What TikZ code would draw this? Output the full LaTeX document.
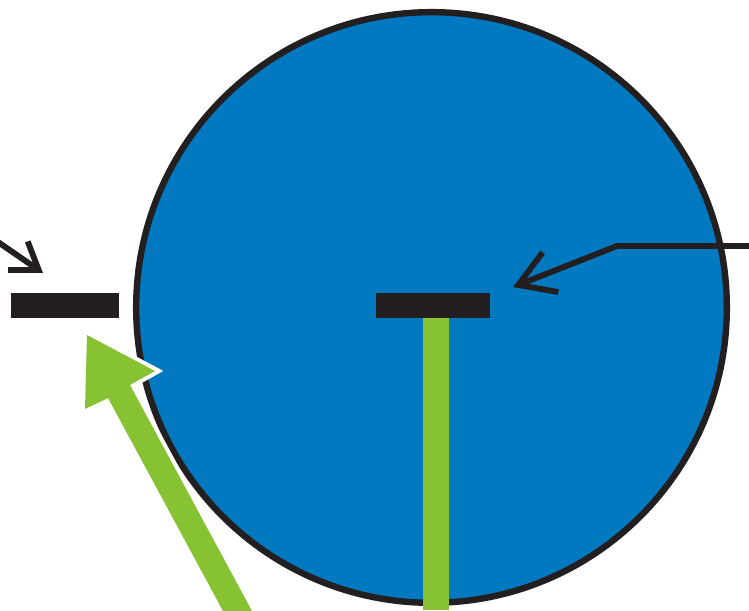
\documentclass[tikz,border=0pt]{standalone}
\usetikzlibrary{arrows.meta}
\definecolor{discblue}{HTML}{0079C1}
\definecolor{leafgreen}{HTML}{86C232}
\definecolor{inkblack}{HTML}{231F20}
\begin{document}
\begin{tikzpicture}[x=0.75pt,y=-0.75pt,
  disc/.style={circle, draw=inkblack, fill=discblue, line width=4.8pt, minimum size=443pt, inner sep=0pt},
  barbox/.style={rectangle, fill=inkblack, minimum height=18.75pt, inner sep=0pt},
  stembox/.style={rectangle, fill=leafgreen, minimum width=19.5pt, minimum height=219pt, inner sep=0pt, anchor=north},
  pointer/.style={draw=inkblack, line width=4.4pt, line join=miter},
  halo/.style={draw=white, line width=6pt, line join=miter},
  bigarrow/.style={fill=leafgreen}
]
\useasboundingbox (0,0) rectangle (749,610);
% disc
\node[disc] (disc) at (431.5,307.5) {};
% bars
\node[barbox, minimum width=81pt] (leftbar) at (65,305.5) {};
\node[barbox, minimum width=85.5pt] (centerbar) at (433,305.5) {};
% green stem under central bar
\node[stembox] (stem) at (436,318) {};
% green arrow pointing up-left
\coordinate (gtip) at (87,335);
\path[halo] (223,611) -- (108,398) -- (85,409) -- (gtip) -- (155,371) -- (130,385) -- (252,611) -- cycle;
\path[bigarrow] (223,611) -- (108,398) -- (85,409) -- (gtip) -- (155,371) -- (130,385) -- (252,611) -- cycle;
% upper right pointer
\coordinate (rin) at (751,246);
\coordinate (rbend) at (617,246);
\coordinate (rtip) at (513,287);
\draw[pointer, -{Straight Barb[length=26pt,width=32pt]}] (rin) -- (rbend) -- (rtip);
% small left pointer
\coordinate (lin) at (-2,242);
\coordinate (ltip) at (43,273);
\draw[pointer, -{Straight Barb[length=19pt,width=26pt]}] (lin) -- (ltip);
\end{tikzpicture}
\end{document}
